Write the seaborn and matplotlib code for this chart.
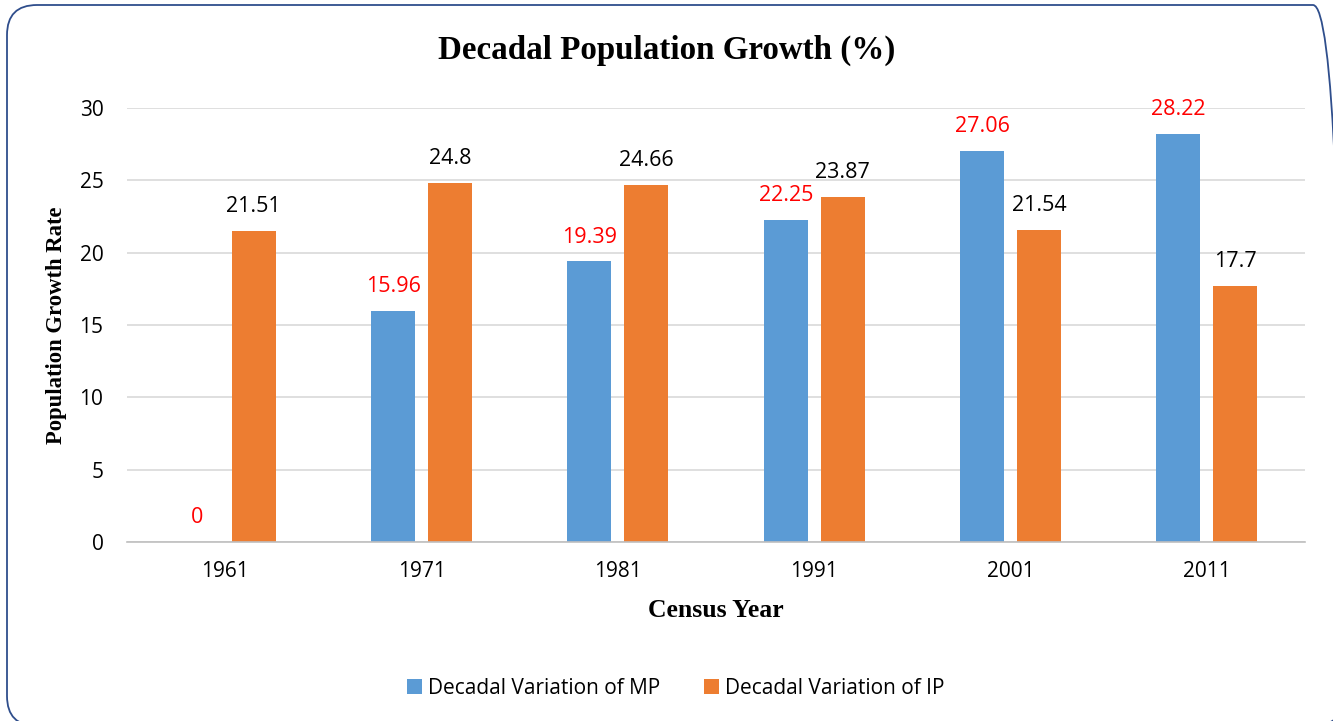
import matplotlib
matplotlib.use("Agg")
import matplotlib.pyplot as plt
from matplotlib.patches import FancyBboxPatch
import seaborn as sns
import pandas as pd

# data
years = ['1961', '1971', '1981', '1991', '2001', '2011']
mp_growth = [0, 15.96, 19.39, 22.25, 27.06, 28.22]
ip_growth = [21.51, 24.8, 24.66, 23.87, 21.54, 17.7]
series_names = ['Decadal Variation of MP', 'Decadal Variation of IP']
label_colors = ['#FF0000', '#000000']
bar_colors = ['#5B9BD5', '#ED7D31']

df = pd.DataFrame({
    'year': years * 2,
    'growth': mp_growth + ip_growth,
    'series': [series_names[0]] * len(years) + [series_names[1]] * len(years),
})

sns.set_theme(style="white")
plt.rcParams['font.family'] = ['Open Sans', 'DejaVu Sans']
plt.rcParams['text.color'] = '#000000'
plt.rcParams['axes.labelcolor'] = '#000000'

fig = plt.figure(figsize=(13.33, 7.21), dpi=100)
ax = fig.add_axes([0.0953, 0.2483, 0.8837, 0.6019])

sns.barplot(data=df, x='year', y='growth', hue='series', palette=bar_colors,
            width=0.58, gap=0.23, saturation=1, linewidth=0, ax=ax, legend=True)

# value labels above bars
for cont, col in zip(ax.containers, label_colors):
    ax.bar_label(cont, labels=[f'{v:g}' for v in cont.datavalues],
                 padding=10, color=col, fontsize=15.5)

ax.set_ylim(0, 30)
ax.set_yticks([0, 5, 10, 15, 20, 25, 30])
ax.yaxis.grid(True, color='#D9D9D9', linewidth=1.2)
ax.set_axisbelow(True)
for side in ['top', 'right', 'left']:
    ax.spines[side].set_visible(False)
ax.spines['bottom'].set_color('#BFBFBF')
ax.spines['bottom'].set_linewidth(1.2)
ax.tick_params(axis='both', length=0, labelsize=15, colors='#000000')
ax.tick_params(axis='x', pad=14)
ax.tick_params(axis='y', pad=17)

ax.set_xlabel('Census Year', family='Liberation Serif', fontweight='bold',
              fontsize=18.5, labelpad=12)
ax.set_ylabel('Population Growth Rate', family='Liberation Serif', fontweight='bold',
              fontsize=16.3, labelpad=9)
fig.text(0.5, 0.93, 'Decadal Population Growth (%)', ha='center', va='center',
         family='Liberation Serif', fontweight='bold', fontsize=23.8)

handles, labels = ax.get_legend_handles_labels()
ax.legend_.remove()
fig.legend(handles, labels, loc='center', bbox_to_anchor=(0.507, 0.045), ncol=2,
           frameon=False, fontsize=15, handlelength=0.7, handleheight=0.7,
           handletextpad=0.3, columnspacing=2.1)

# rounded chart border, running just past the right and bottom edges
border = FancyBboxPatch((0.07, -0.05), 13.36, 7.21,
                        boxstyle='round,pad=0,rounding_size=0.30',
                        transform=fig.dpi_scale_trans, fill=False,
                        edgecolor='#2F4E8C', linewidth=1.3)
fig.patches.append(border)

fig.savefig('out.png', dpi=100)
